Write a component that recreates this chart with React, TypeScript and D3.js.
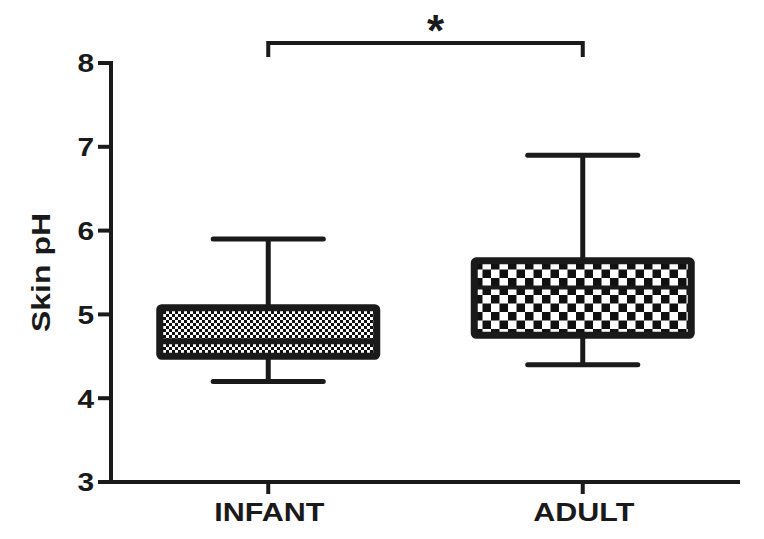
import React from "react";
import * as d3 from "d3";

const categories = ["INFANT", "ADULT"];
const whiskerLow = [4.2, 4.4];
const q1 = [4.5, 4.75];
const medians = [4.68, 5.32];
const q3 = [5.08, 5.64];
const whiskerHigh = [5.9, 6.9];
const yTicks = [3, 4, 5, 6, 7, 8];
const yLabel = "Skin pH";
const sigLabel = "*";

const W = 764;
const H = 539;
const left = 111;
const right = 740;
const top = 63;
const bottom = 482;
const font = "'Liberation Sans', Arial, sans-serif";

export default function App() {
  const y = d3.scaleLinear().domain([3, 8]).range([bottom, top]);
  const x = d3.scaleBand().domain(categories).range([left, right]).padding(0);
  const step = x.bandwidth();
  const boxW = step * 0.69;
  const capW = step * 0.35;
  const cx = (c: string) => (x(c) as number) + step / 2;
  const cellSizes = [3, 8.5];
  const medianWidths = [6, 4];

  return (
    <svg width={W} height={H} style={{ position: "absolute", left: 0, top: 0, background: "#fff" }}>
      <defs>
        {categories.map((c, i) => {
          const s = cellSizes[i];
          return (
            <pattern key={c} id={`chk${i}`} patternUnits="userSpaceOnUse" width={2 * s} height={2 * s}
              x={Math.round(cx(c) - boxW / 2)} y={Math.round(y(q3[i]))}>
              <rect width={2 * s} height={2 * s} fill="#fff" />
              <rect x={0} y={0} width={s} height={s} fill="#111" />
              <rect x={s} y={s} width={s} height={s} fill="#111" />
            </pattern>
          );
        })}
      </defs>

      {/* boxes */}
      {categories.map((c, i) => {
        const xc = cx(c);
        return (
          <g key={c}>
            <line x1={xc} x2={xc} y1={y(whiskerHigh[i])} y2={y(q3[i])} stroke="#1a1a1a" strokeWidth={5} />
            <line x1={xc} x2={xc} y1={y(q1[i])} y2={y(whiskerLow[i])} stroke="#1a1a1a" strokeWidth={5} />
            <line x1={xc - capW / 2} x2={xc + capW / 2} y1={y(whiskerHigh[i])} y2={y(whiskerHigh[i])}
              stroke="#1a1a1a" strokeWidth={5} strokeLinecap="round" />
            <line x1={xc - capW / 2} x2={xc + capW / 2} y1={y(whiskerLow[i])} y2={y(whiskerLow[i])}
              stroke="#1a1a1a" strokeWidth={5} strokeLinecap="round" />
            <rect x={xc - boxW / 2} y={y(q3[i])} width={boxW} height={y(q1[i]) - y(q3[i])}
              fill={`url(#chk${i})`} stroke="#1a1a1a" strokeWidth={7} rx={2} />
            <line x1={xc - boxW / 2} x2={xc + boxW / 2} y1={y(medians[i])} y2={y(medians[i])}
              stroke="#1a1a1a" strokeWidth={medianWidths[i]} />
          </g>
        );
      })}

      {/* y axis */}
      <line x1={left} x2={left} y1={top - 2} y2={bottom + 2} stroke="#1a1a1a" strokeWidth={4} />
      {yTicks.map((t) => (
        <g key={t}>
          <line x1={left - 13} x2={left} y1={y(t)} y2={y(t)} stroke="#1a1a1a" strokeWidth={4} />
          <text transform={`translate(94,${y(t)}) scale(1.15,1)`} dy="0.36em" textAnchor="end"
            fontFamily={font} fontWeight="bold" fontSize={26} fill="#1a1a1a">{t}</text>
        </g>
      ))}
      <text transform={`translate(50,${(top + bottom) / 2}) rotate(-90) scale(1.28,1)`} textAnchor="middle"
        fontFamily={font} fontWeight="bold" fontSize={25} fill="#1a1a1a">{yLabel}</text>

      {/* x axis */}
      <line x1={left - 2} x2={right} y1={bottom} y2={bottom} stroke="#1a1a1a" strokeWidth={4} />
      {categories.map((c) => (
        <g key={c}>
          <line x1={cx(c)} x2={cx(c)} y1={bottom} y2={bottom + 12} stroke="#1a1a1a" strokeWidth={4} />
          <text transform={`translate(${cx(c) + 1},521) scale(1.22,1)`} textAnchor="middle"
            fontFamily={font} fontWeight="bold" fontSize={25} fill="#1a1a1a">{c}</text>
        </g>
      ))}

      {/* significance bracket */}
      <path d={`M${cx(categories[0])},57 V43 H${cx(categories[1])} V57`} fill="none" stroke="#1a1a1a"
        strokeWidth={4} />
      <text x={(cx(categories[0]) + cx(categories[1])) / 2 + 10} y={46} textAnchor="middle"
        fontFamily={font} fontWeight="bold" fontSize={44} fill="#1a1a1a">{sigLabel}</text>
    </svg>
  );
}
